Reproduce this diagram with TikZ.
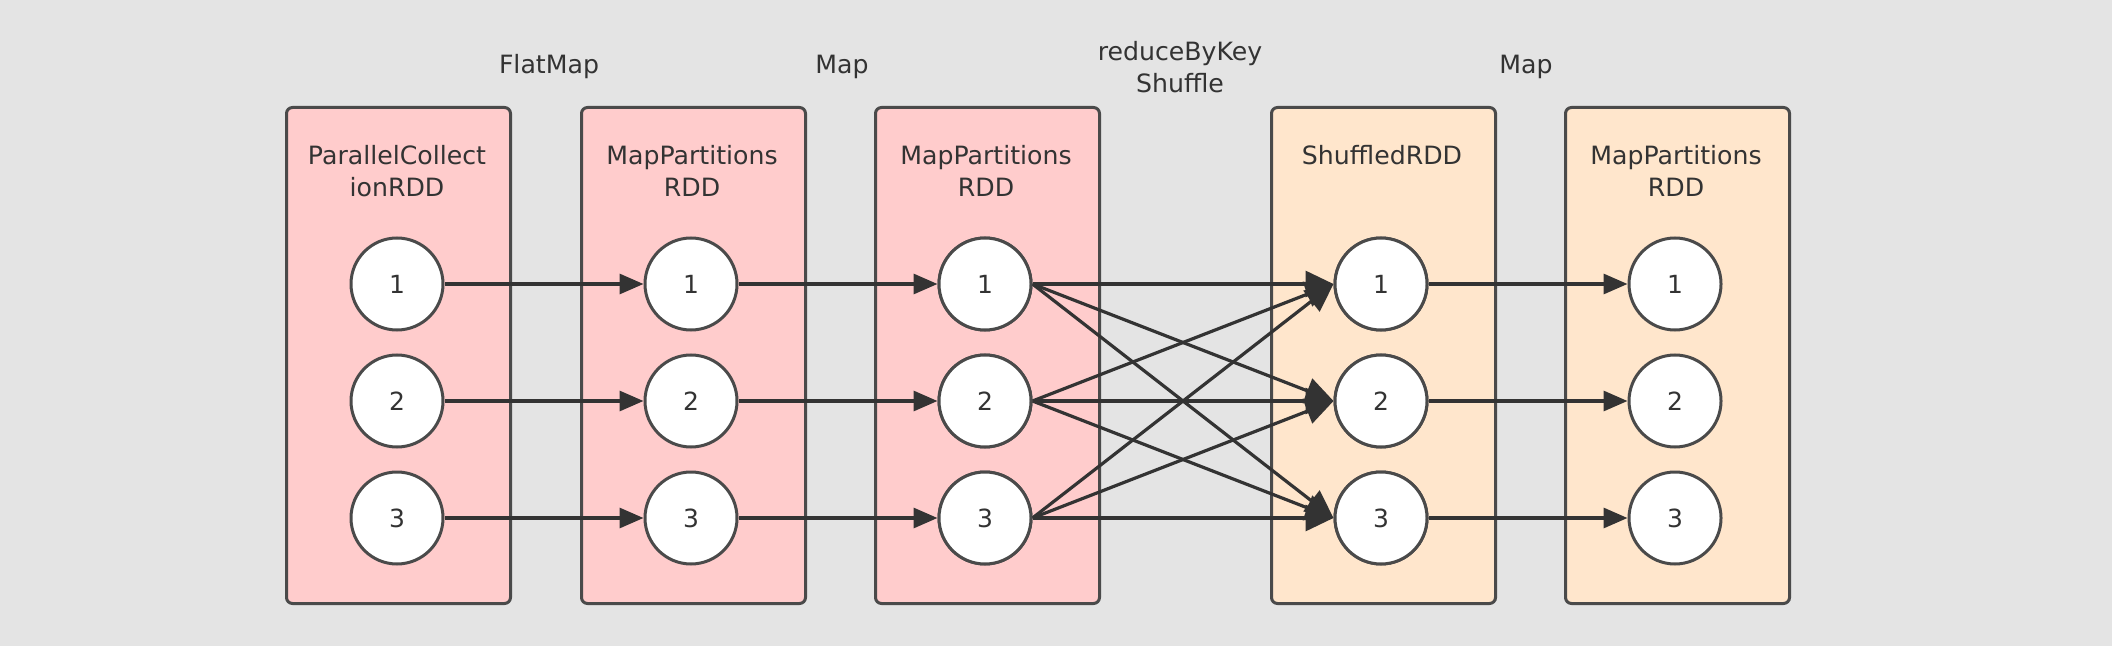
\documentclass[tikz,border=0pt]{standalone}
\usepackage{fontspec}
\setmainfont{DejaVu Sans}
\usetikzlibrary{arrows.meta}
\definecolor{bg}{HTML}{E4E4E4}
\definecolor{pinkf}{HTML}{FFCCCC}
\definecolor{orangef}{HTML}{FFE6CC}
\definecolor{edge}{HTML}{4A4A4A}
\definecolor{ink}{HTML}{333333}
\tikzset{
  rdd/.style={draw=edge, line width=1.5pt, rounded corners=3pt, minimum width=112pt, minimum height=248pt, anchor=north west, inner sep=0pt},
  part/.style={circle, draw=edge, fill=white, line width=1.5pt, minimum size=46pt, inner sep=0pt, font=\fontsize{12.5pt}{14pt}\selectfont, text=ink},
  title/.style={font=\fontsize{12.6pt}{16pt}\selectfont, text=ink, align=center},
  flow/.style={draw=ink, line width=1.6pt, -{Triangle[length=12pt,width=10pt]}},
  shuf/.style={draw=ink, line width=1.6pt, -{Triangle[length=14pt,width=13pt]}},
}
\begin{document}
\begin{tikzpicture}[x=0.5pt,y=-0.5pt]
\fill[bg] (0,0) rectangle (2112,646);
\useasboundingbox (0,0) rectangle (2112,646);
% boxes
\node[rdd, fill=pinkf] (b1) at (285,106) {};
\node[rdd, fill=pinkf] (b2) at (580,106) {};
\node[rdd, fill=pinkf] (b3) at (874,106) {};
\node[rdd, fill=orangef] (b4) at (1270,106) {};
\node[rdd, fill=orangef] (b5) at (1564,106) {};
% titles
\node[title] (t1) at (397,171) {ParallelCollect\\ionRDD};
\node[title] (t2) at (692,171) {MapPartitions\\RDD};
\node[title] (t3) at (986,171) {MapPartitions\\RDD};
\node[title] (t4) at (1382,155) {ShuffledRDD};
\node[title] (t5) at (1676,171) {MapPartitions\\RDD};
% operation labels
\node[title] (o1) at (549,67) {FlatMap};
\node[title] (o2) at (842,67) {Map};
\node[title] (o3) at (1180,67) {reduceByKey\\Shuffle};
\node[title] (o4) at (1526,67) {Map};
% partitions
\foreach \c/\x in {1/397,2/691,3/985,4/1381,5/1675}{
  \foreach \r/\y in {1/284,2/401,3/518}{
    \node[part] (p\c\r) at (\x,\y) {\r};
  }
}
% narrow dependencies
\foreach \r in {1,2,3}{
  \draw[flow] (p1\r.east) -- (p2\r.west);
  \draw[flow] (p2\r.east) -- (p3\r.west);
  \draw[flow] (p4\r.east) -- (p5\r.west);
}
% shuffle
\foreach \a in {1,2,3}{
  \foreach \b in {1,2,3}{
    \draw[shuf] (p3\a.east) -- (p4\b.west);
  }
}
% redraw circles on top
\foreach \c/\x in {3/985,4/1381}{
  \foreach \r/\y in {1/284,2/401,3/518}{
    \node[part] at (\x,\y) {\r};
  }
}
\end{tikzpicture}
\end{document}
